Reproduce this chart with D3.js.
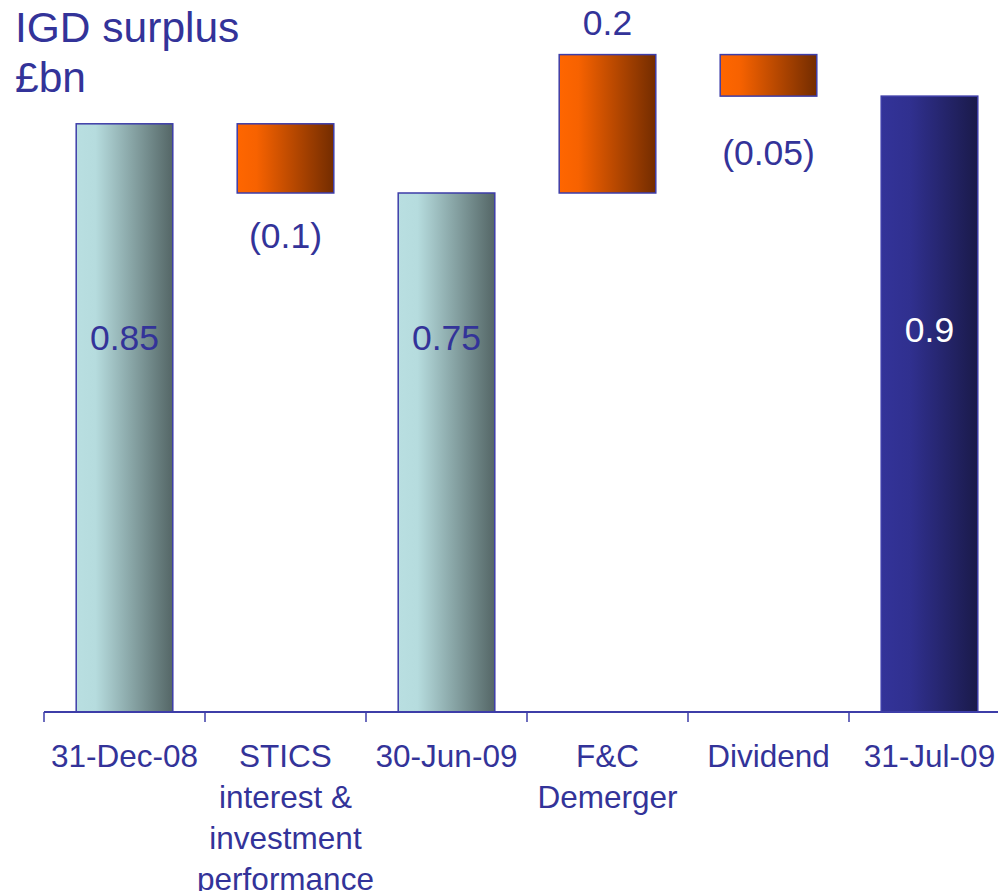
<!DOCTYPE html>
<html>
<head>
<meta charset="utf-8">
<script src="https://d3js.org/d3.v7.min.js"></script>
<style>
    body { margin: 0; background: #fff; }
    text { font-family: "Liberation Sans", Arial, sans-serif; fill: #333399; }
</style>
</head>
<body>
<svg></svg>
<script>
    // Data
    const categories = ["31-Dec-08", "STICS interest & investment performance", "30-Jun-09", "F&C Demerger", "Dividend", "31-Jul-09"]
    const categoryLines = [["31-Dec-08"], ["STICS", "interest &", "investment", "performance"], ["30-Jun-09"], ["F&C", "Demerger"], ["Dividend"], ["31-Jul-09"]]
    const kinds = ["total", "change", "total", "change", "change", "total"]
    const values = [0.85, -0.1, 0.75, 0.2, -0.06, 0.89]
    const valueLabels = ["0.85", "(0.1)", "0.75", "0.2", "(0.05)", "0.9"]

    const width = 998, height = 891
    const svg = d3.select("svg").attr("width", width).attr("height", height)

    // gradients
    const defs = svg.append("defs")
    function grad(id, stops) {
        const g = defs.append("linearGradient").attr("id", id)
            .attr("x1", "0%").attr("x2", "100%").attr("y1", "0%").attr("y2", "0%")
        stops.forEach(s => g.append("stop").attr("offset", s[0]).attr("stop-color", s[1]))
    }
    grad("gLight", [["0%", "#b9dfe1"], ["20%", "#b6dcde"], ["100%", "#546666"]])
    grad("gOrange", [["0%", "#ff6600"], ["20%", "#f76200"], ["100%", "#732c00"]])
    grad("gNavy", [["0%", "#333399"], ["30%", "#30308f"], ["100%", "#1a1a4a"]])

    const x = d3.scaleBand().domain(categories).range([44, 44 + 6 * 161]).paddingInner(0.4).paddingOuter(0.2)
    const y = d3.scaleLinear().domain([0, 1]).range([712, 20])

    // running waterfall positions
    let running = 0
    const bars = categories.map((c, i) => {
        let lo, hi
        if (kinds[i] == "total") {
            running = values[i]
            lo = 0; hi = values[i]
        } else {
            const start = running
            running = running + values[i]
            lo = Math.min(start, running); hi = Math.max(start, running)
        }
        return { cat: c, i: i, lo: lo, hi: hi, v: values[i], kind: kinds[i] }
    })

    function fillFor(d) {
        if (d.kind == "change") return "url(#gOrange)"
        return d.i == categories.length - 1 ? "url(#gNavy)" : "url(#gLight)"
    }

    svg.append("g").selectAll("rect")
        .data(bars)
        .enter()
        .append("rect")
        .attr("x", d => x(d.cat))
        .attr("width", x.bandwidth())
        .attr("y", d => y(d.hi))
        .attr("height", d => y(d.lo) - y(d.hi))
        .attr("fill", fillFor)
        .attr("stroke", "#3d3da8")
        .attr("stroke-width", 1.5)

    // axis line with ticks at band boundaries
    const step = x.step()
    const axis = svg.append("g")
    axis.append("line")
        .attr("x1", 44).attr("x2", width)
        .attr("y1", y(0)).attr("y2", y(0))
        .attr("stroke", "#3d3da8").attr("stroke-width", 2)
    axis.selectAll(".tick")
        .data(categories)
        .enter()
        .append("line")
        .attr("x1", d => x(d) - step * 0.2).attr("x2", d => x(d) - step * 0.2)
        .attr("y1", y(0)).attr("y2", y(0) + 10)
        .attr("stroke", "#3d3da8").attr("stroke-width", 1.5)

    // category labels
    axis.selectAll(".cat")
        .data(categories)
        .enter()
        .append("text")
        .attr("text-anchor", "middle")
        .style("font-size", "31.5px")
        .each(function(d, i) {
            const t = d3.select(this)
            categoryLines[i].forEach((ln, k) => {
                t.append("tspan")
                    .attr("x", x(d) + x.bandwidth() / 2)
                    .attr("y", 767 + k * 41)
                    .text(ln)
            })
        })

    // value labels
    svg.append("g").selectAll("text")
        .data(bars)
        .enter()
        .append("text")
        .attr("text-anchor", "middle")
        .style("font-size", "35.5px")
        .style("fill", d => d.i == categories.length - 1 ? "#ffffff" : "#333399")
        .attr("x", d => x(d.cat) + x.bandwidth() / 2)
        .attr("y", d => {
            if (d.kind == "total") return d.i == categories.length - 1 ? y(0.535) : y(0.523)
            if (d.v < 0) return y(d.lo) + (Math.abs(d.v) < 0.08 ? 69 : 55)
            return y(d.hi) - 20
        })
        .text((d, i) => valueLabels[i])

    // title
    const title = svg.append("text").style("font-size", "42.5px")
    title.append("tspan").attr("x", 15).attr("y", 42).text("IGD surplus")
    title.append("tspan").attr("x", 15).attr("y", 92).text("£bn")
</script>
</body>
</html>
